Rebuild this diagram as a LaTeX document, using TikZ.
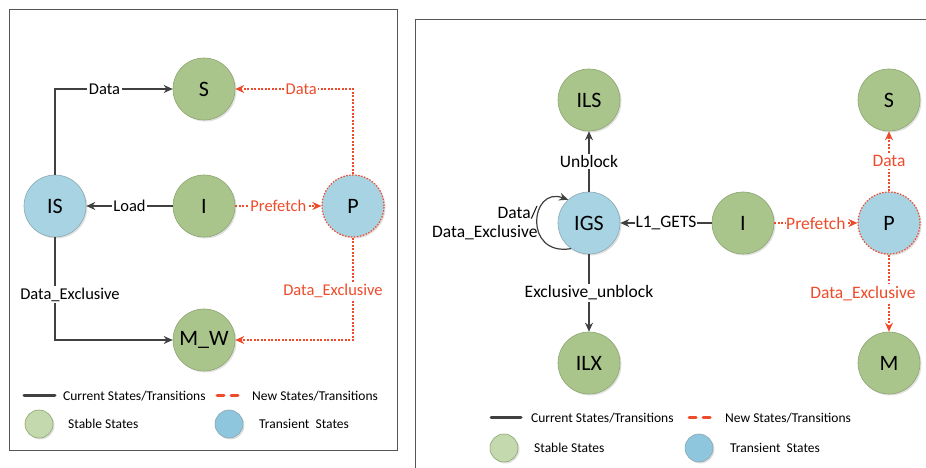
\documentclass[tikz,border=0pt]{standalone}
\usepackage{fontspec}
\setmainfont{Carlito}
\usetikzlibrary{arrows.meta,positioning,shadows}
\definecolor{stablegreen}{HTML}{A9C58C}
\definecolor{stableedge}{HTML}{8CA46F}
\definecolor{keygreen}{HTML}{C5D9AE}
\definecolor{transblue}{HTML}{A7D3E3}
\definecolor{keyblue}{HTML}{8DC6DD}
\definecolor{transedge}{HTML}{8AA7B2}
\definecolor{newred}{HTML}{EE4B2B}
\definecolor{curgray}{HTML}{404040}
\definecolor{framegray}{HTML}{555555}

\begin{document}
\begin{tikzpicture}[x=1pt,y=1pt,
  state/.style={circle,minimum size=62pt,inner sep=0pt,font=\fontsize{22}{22}\selectfont,
    drop shadow={shadow xshift=1.5pt,shadow yshift=-1.5pt,opacity=0.25}},
  stable/.style={state,fill=stablegreen,draw=stableedge,line width=0.6pt},
  transient/.style={state,fill=transblue,draw=transedge,line width=0.6pt},
  newstate/.style={state,fill=transblue,draw=newred,line width=1.2pt,dash pattern=on 1.5pt off 1.5pt},
  cur/.style={draw=curgray,line width=1.5pt,-{Stealth[length=9pt,width=8pt]}},
  new/.style={draw=newred,line width=1.2pt,dash pattern=on 2pt off 1.5pt,-{Stealth[length=9pt,width=8pt]}},
  lbl/.style={fill=white,inner sep=1.5pt,font=\fontsize{16.5}{17}\selectfont},
  redlbl/.style={lbl,text=newred},
  big/.style={font=\fontsize{17.5}{19}\selectfont},
  key/.style={anchor=west,inner sep=0pt,font=\fontsize{13.5}{14}\selectfont},
  keydot/.style={circle,minimum size=28pt,inner sep=0pt,line width=0.6pt,
    drop shadow={shadow xshift=1.5pt,shadow yshift=-1.5pt,opacity=0.25}}]
\useasboundingbox (0,0) rectangle (926,468);

\draw[framegray,line width=1pt] (9,17) rectangle (397,458);
\node[stable] (S) at (204,379) {S};
\node[transient] (IS) at (55,262) {IS};
\node[stable] (I) at (204,262) {I};
\node[newstate] (P) at (353,262) {P};
\node[stable] (MW) at (204,128) {M\_W};
\draw[cur] (IS.north) |- node[lbl,pos=0.71] {Data} (S.west);
\draw[new] (P.north) |- node[redlbl,pos=0.72] {Data} (S.east);
\draw[cur] (I.west) -- node[lbl] {Load} (IS.east);
\draw[new] (I.east) -- node[redlbl] {Prefetch} (P.west);
\draw[cur] (IS.south) |- node[lbl,pos=0.28,xshift=15pt] {Data\_Exclusive} (MW.west);
\draw[new] (P.south) |- node[redlbl,pos=0.26,xshift=-20pt] {Data\_Exclusive} (MW.east);
\draw[curgray,line width=3pt,line cap=round] (24,72) -- (55,72);
\node[key] (curkey) at (63,72) {Current States/Transitions};
\draw[newred,line width=3pt,line cap=round,dash pattern=on 7pt off 7pt] (217,72) -- (239,72);
\node[key] (newkey) at (252,72) {New States/Transitions};
\node[keydot,fill=keygreen,draw=stableedge] (stabledot) at (39,44) {};
\node[key] (stablekey) at (68,44) {Stable States};
\node[keydot,fill=keyblue,draw=transedge] (transdot) at (229,44) {};
\node[key] (transkey) at (259,44) {Transient\ \ States};

\draw[framegray,line width=1pt] (927,448) -- (415,448) -- (415,-1);
\node[stable] (ILS) at (589,368) {ILS};
\node[transient] (IGS) at (589,245) {IGS};
\node[stable] (ILX) at (589,105) {ILX};
\node[stable] (I2) at (743,245) {I};
\node[newstate] (P2) at (889,245) {P};
\node[stable] (S2) at (889,368) {S};
\node[stable] (M2) at (889,105) {M};
\draw[cur] (IGS.north) -- node[lbl,big] {Unblock} (ILS.south);
\draw[cur] (IGS.south) -- node[lbl,big] {Exclusive\_unblock} (ILX.north);
\draw[cur] (I2.west) -- node[lbl,big,inner sep=0.5pt] {L1\_GETS} (IGS.east);
\draw[new] (I2.east) -- node[redlbl,big,inner sep=0.5pt] {Prefetch} (P2.west);
\draw[new] (P2.north) -- node[redlbl,big] {Data} (S2.south);
\draw[new] (P2.south) -- node[redlbl,big,xshift=-26pt] {Data\_Exclusive} (M2.north);
\draw[cur,line width=1.2pt] (IGS.235) .. controls +(-48,-8) and +(-38,14) .. (IGS.132);
\node[lbl,big,fill=none,align=right,inner sep=0pt,left=20pt of IGS] (loop) {Data/\\Data\_Exclusive};
\draw[curgray,line width=3pt,line cap=round] (491,50) -- (521,50);
\node[key] (curkey2) at (531,50) {Current States/Transitions};
\draw[newred,line width=3pt,line cap=round,dash pattern=on 7pt off 7pt] (689,50) -- (711,50);
\node[key] (newkey2) at (725,50) {New States/Transitions};
\node[keydot,fill=keygreen,draw=stableedge] (stabledot2) at (504,20) {};
\node[key] (stablekey2) at (534,20) {Stable States};
\node[keydot,fill=keyblue,draw=transedge] (transdot2) at (699,20) {};
\node[key] (transkey2) at (730,20) {Transient\ \ States};
\end{tikzpicture}
\end{document}
